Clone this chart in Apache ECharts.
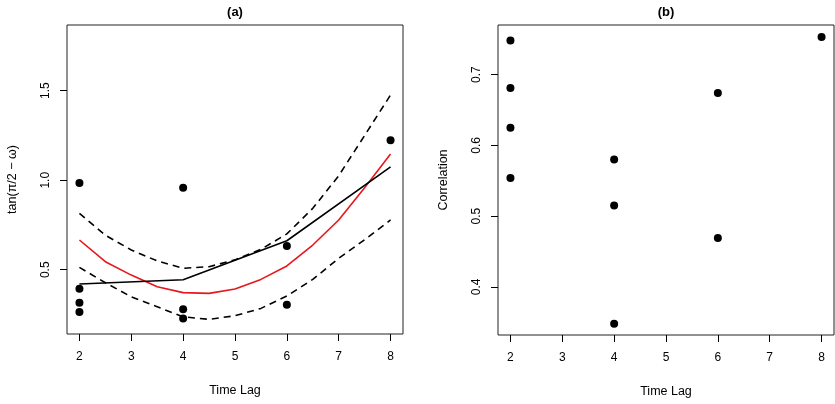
<!DOCTYPE html>
<html lang="en">
<head>
    <meta charset="UTF-8">
    <style>
        html, body { margin: 0; padding: 0; background: #fff; }
        #chart { width: 835px; height: 404px; }
    </style>
</head>
<body>
    <div id="chart"></div>
    <script src="https://cdn.jsdelivr.net/npm/echarts@6/dist/echarts.min.js"></script>
    <script>
        // panel (a) observations
        const lagA = [2, 2, 2, 2, 4, 4, 4, 6, 6, 8];
        const tanA = [0.984, 0.394, 0.316, 0.264, 0.958, 0.279, 0.228, 0.632, 0.304, 1.223];

        // mean line (black)
        const meanLag = [2, 4, 6, 8];
        const meanTan = [0.420, 0.444, 0.662, 1.075];

        // quadratic fit + bounds
        const fitLag = [2, 2.5, 3, 3.5, 4, 4.5, 5, 5.5, 6, 6.5, 7, 7.5, 8];
        const fitTan = [0.666, 0.545, 0.470, 0.405, 0.372, 0.368, 0.392, 0.446, 0.521, 0.638, 0.778, 0.958, 1.146];
        const upperTan = [0.815, 0.693, 0.610, 0.549, 0.508, 0.517, 0.555, 0.614, 0.700, 0.843, 1.025, 1.250, 1.476];
        const lowerTan = [0.513, 0.427, 0.349, 0.293, 0.237, 0.223, 0.243, 0.284, 0.353, 0.446, 0.564, 0.668, 0.778];

        // panel (b) observations
        const lagB = [2, 2, 2, 2, 4, 4, 4, 6, 6, 8];
        const corB = [0.748, 0.681, 0.625, 0.554, 0.580, 0.515, 0.348, 0.674, 0.469, 0.753];

        const xTicks = [2, 3, 4, 5, 6, 7, 8];
        const yTicksA = [0.5, 1.0, 1.5];
        const yTicksB = [0.4, 0.5, 0.6, 0.7];

        const zip = (xs, ys) => xs.map((x, i) => [x, ys[i]]);
        const FONT = 'Liberation Sans, Arial, sans-serif';

        function xAxisFor(idx) {
            return {
                type: 'value', gridIndex: idx, min: 1.76, max: 8.24,
                name: 'Time Lag', nameLocation: 'middle', nameGap: 50,
                nameTextStyle: { fontFamily: FONT, fontSize: 12.5, color: '#000' },
                splitLine: { show: false },
                axisLine: { show: false },
                axisTick: { show: true, length: 7, lineStyle: { color: '#000' }, customValues: xTicks },
                axisLabel: { margin: 17, fontFamily: FONT, fontSize: 12, color: '#000', customValues: xTicks }
            };
        }

        function yAxisFor(idx, min, max, ticks, name) {
            return {
                type: 'value', gridIndex: idx, min: min, max: max,
                name: name, nameLocation: 'middle', nameGap: 48, nameRotate: 90,
                nameTextStyle: { fontFamily: FONT, fontSize: 12.5, color: '#000' },
                splitLine: { show: false },
                axisLine: { show: false },
                axisTick: { show: true, length: 7, lineStyle: { color: '#000' }, customValues: ticks },
                axisLabel: {
                    rotate: 90, margin: 15, fontFamily: FONT, fontSize: 12, color: '#000',
                    customValues: ticks, formatter: v => v.toFixed(1)
                }
            };
        }

        function dots(xs, ys, idx) {
            return {
                type: 'scatter', xAxisIndex: idx, yAxisIndex: idx, data: zip(xs, ys),
                symbol: 'circle', symbolSize: 8, itemStyle: { color: '#000', opacity: 1 }, z: 5
            };
        }

        function curve(xs, ys, color, dashed) {
            return {
                type: 'line', xAxisIndex: 0, yAxisIndex: 0, data: zip(xs, ys),
                symbol: 'none', smooth: false,
                lineStyle: { color: color, width: 1.6, type: dashed ? [7, 5] : 'solid' }
            };
        }

        const chart = echarts.init(document.getElementById('chart'), null, { renderer: 'canvas' });
        chart.setOption({
            animation: false,
            backgroundColor: '#fff',
            grid: [
                { left: 67, top: 25, width: 336, height: 309, show: true, borderColor: '#222', borderWidth: 1, backgroundColor: 'transparent' },
                { left: 498, top: 25, width: 336, height: 310, show: true, borderColor: '#222', borderWidth: 1, backgroundColor: 'transparent' }
            ],
            xAxis: [xAxisFor(0), xAxisFor(1)],
            yAxis: [
                yAxisFor(0, 0.141, 1.867, yTicksA, 'tan(π/2 − ω)'),
                yAxisFor(1, 0.332, 0.770, yTicksB, 'Correlation')
            ],
            graphic: [
                { type: 'text', x: 235, y: 12, style: { text: '(a)', font: 'bold 13px ' + FONT, fill: '#000', align: 'center', verticalAlign: 'middle' } },
                { type: 'text', x: 666, y: 12, style: { text: '(b)', font: 'bold 13px ' + FONT, fill: '#000', align: 'center', verticalAlign: 'middle' } }
            ],
            series: [
                curve(fitLag, upperTan, '#000', true),
                curve(fitLag, lowerTan, '#000', true),
                curve(fitLag, fitTan, '#e8161a', false),
                curve(meanLag, meanTan, '#000', false),
                dots(lagA, tanA, 0),
                dots(lagB, corB, 1)
            ]
        });
    </script>
</body>
</html>
